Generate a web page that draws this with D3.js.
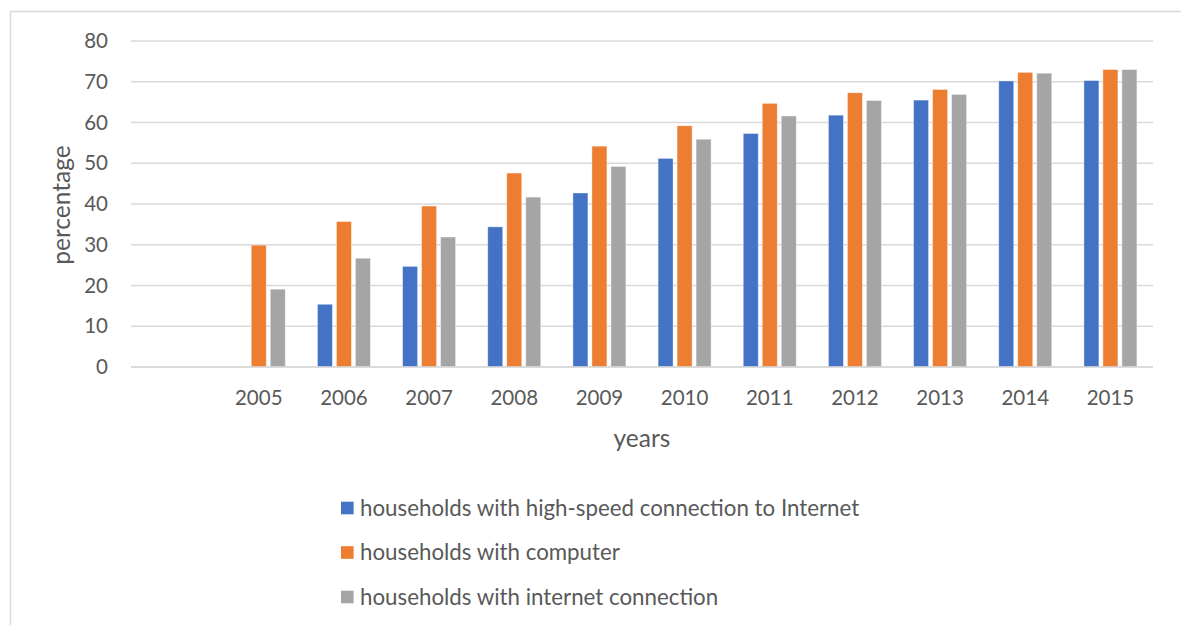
<!DOCTYPE html>
<html>
<head>
<meta charset="utf-8">
<script src="https://cdn.jsdelivr.net/npm/d3@7"></script>
<style>
  html, body { margin: 0; padding: 0; background: #ffffff; }
  svg { display: block; font-family: Lato, "Open Sans", sans-serif; }
</style>
</head>
<body>
<svg id="chart" width="1181" height="625"></svg>
<script>
// Category axis: the first slot is intentionally left blank
const categories = ["", "2005", "2006", "2007", "2008", "2009", "2010", "2011", "2012", "2013", "2014", "2015"];

const seriesNames = [
  "households with high-speed connection to Internet",
  "households with computer",
  "households with internet connection"
];

const highSpeed = [null, null, 15.4, 24.7, 34.4, 42.7, 51.2, 57.3, 61.8, 65.5, 70.2, 70.3];
const computer  = [null, 29.9, 35.7, 39.5, 47.6, 54.2, 59.2, 64.7, 67.3, 68.1, 72.3, 73.0];
const internet  = [null, 19.1, 26.7, 31.9, 41.7, 49.2, 55.9, 61.6, 65.4, 66.9, 72.1, 73.0];

const yTicks = [0, 10, 20, 30, 40, 50, 60, 70, 80];

const colors = ["#4472c4", "#ed7d31", "#a5a5a5"];
const seriesValues = [highSpeed, computer, internet];

const svg = d3.select("#chart");
const W = 1181, H = 625;

// Outer chart frame
svg.append("rect")
  .attr("x", 10.5).attr("y", 11.5)
  .attr("width", W + 20).attr("height", H + 20)
  .attr("fill", "none")
  .attr("stroke", "#d9d9d9")
  .attr("stroke-width", 1.5);

const plot = { left: 131, right: 1153, top: 41, bottom: 367 };

const x = d3.scaleBand()
  .domain(categories.map((c, i) => i))
  .range([plot.left, plot.right])
  .paddingInner(0)
  .paddingOuter(0);

const y = d3.scaleLinear()
  .domain([0, 80])
  .range([plot.bottom, plot.top]);

// Horizontal gridlines
svg.append("g")
  .selectAll("line")
  .data(yTicks)
  .join("line")
  .attr("x1", plot.left).attr("x2", plot.right)
  .attr("y1", d => y(d)).attr("y2", d => y(d))
  .attr("stroke", "#d9d9d9")
  .attr("stroke-width", 1.3);

// Y axis tick labels
const yAxis = d3.axisLeft(y).tickValues(yTicks).tickSize(0).tickPadding(0);
const yg = svg.append("g")
  .attr("transform", `translate(${plot.left - 23},0)`)
  .call(yAxis);
yg.select(".domain").remove();
yg.selectAll("text")
  .attr("fill", "#595959")
  .attr("font-size", 20.5)
  .attr("font-family", "Lato, sans-serif");

// X axis tick labels
const xAxis = d3.axisBottom(x).tickFormat(i => categories[i]).tickSize(0).tickPadding(0);
const xg = svg.append("g")
  .attr("transform", `translate(0,${plot.bottom + 23})`)
  .call(xAxis);
xg.select(".domain").remove();
xg.selectAll("text")
  .attr("fill", "#595959")
  .attr("font-size", 20.5)
  .attr("font-family", "Lato, sans-serif");

// Bars: three series side by side in every year slot
const barW = 15, barGap = 4;
const groupW = 3 * barW + 2 * barGap;
const inner = d3.scaleBand()
  .domain([0, 1, 2])
  .range([0, groupW])
  .paddingInner(barGap / (barW + barGap))
  .paddingOuter(0);

const barData = [];
seriesValues.forEach((vals, s) => {
  vals.forEach((v, i) => {
    if (v !== null) barData.push({ s, i, v });
  });
});

svg.append("g")
  .selectAll("rect")
  .data(barData)
  .join("rect")
  .attr("x", d => x(d.i) + (x.bandwidth() - groupW) / 2 + inner(d.s))
  .attr("width", inner.bandwidth())
  .attr("y", d => y(d.v))
  .attr("height", d => y(0) - y(d.v))
  .attr("fill", d => colors[d.s])
  .attr("stroke", "#ffffff")
  .attr("stroke-opacity", 0.5)
  .attr("stroke-width", 0.8);

// Redraw the baseline on top of the bars
svg.append("line")
  .attr("x1", plot.left).attr("x2", plot.right)
  .attr("y1", y(0)).attr("y2", y(0))
  .attr("stroke", "#d9d9d9")
  .attr("stroke-width", 1.3);

// Axis titles
svg.append("text")
  .attr("transform", "translate(69.5,205) rotate(-90)")
  .attr("text-anchor", "middle")
  .attr("fill", "#595959")
  .attr("font-size", 24.5)
  .text("percentage");

svg.append("text")
  .attr("x", 642).attr("y", 447)
  .attr("text-anchor", "middle")
  .attr("fill", "#595959")
  .attr("font-size", 24.5)
  .text("years");

// Legend
const legend = svg.append("g").attr("transform", "translate(341,0)");
const legendRows = legend.selectAll("g")
  .data(seriesNames)
  .join("g")
  .attr("transform", (d, i) => `translate(0,${508 + i * 44.5})`);
legendRows.append("rect")
  .attr("x", 0).attr("y", -6.3)
  .attr("width", 12.6).attr("height", 12.6)
  .attr("fill", (d, i) => colors[i]);
legendRows.append("text")
  .attr("x", 19).attr("y", 7.5)
  .attr("fill", "#595959")
  .attr("font-size", 22.3)
  .text(d => d);
</script>
</body>
</html>
